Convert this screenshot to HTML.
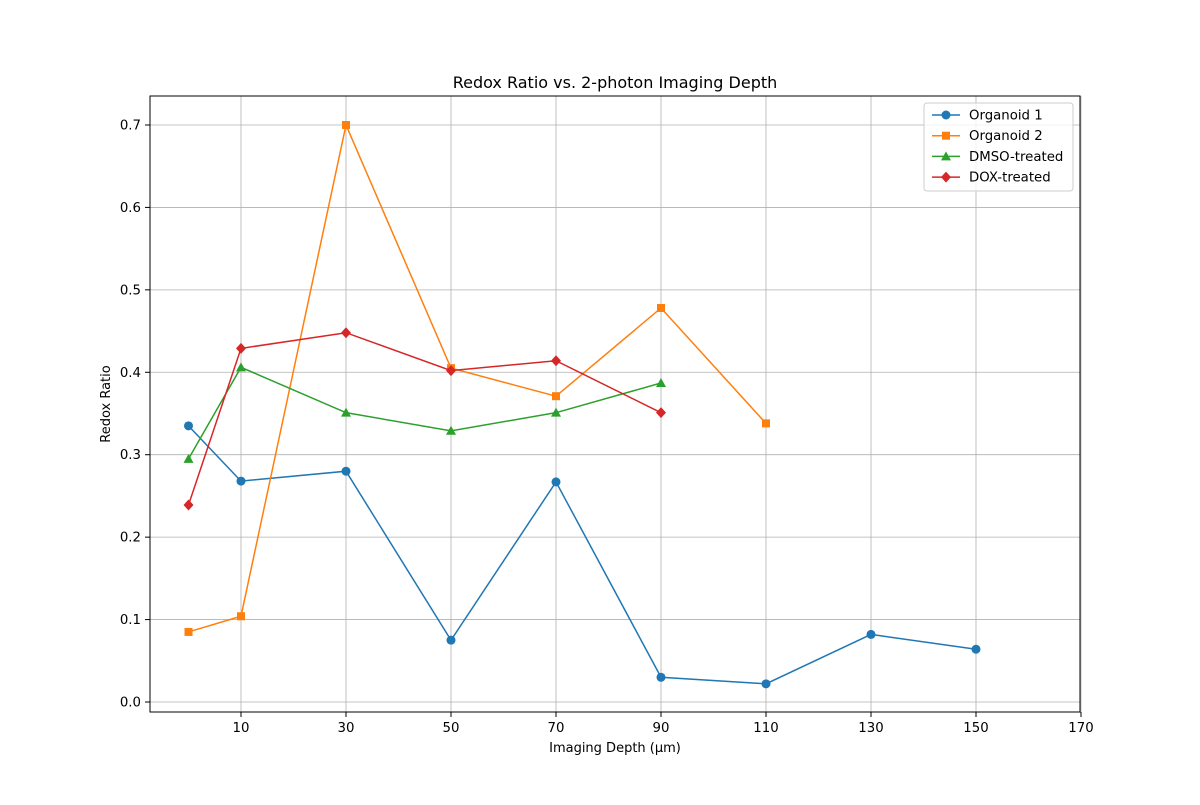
<!DOCTYPE html>
<html><head><meta charset="utf-8"><style>
body{margin:0;background:#fff}
svg text{font-family:"DejaVu Sans","Liberation Sans",sans-serif;fill:#000}
</style></head><body>
<svg id="chart" width="1200" height="800" xmlns="http://www.w3.org/2000/svg">
<rect width="1200" height="800" fill="#fff"/>
<g id="grid"></g>
<g id="series"></g>
<rect x="150" y="96" width="930" height="616" fill="none" stroke="#000" stroke-width="1"/>
<g id="ticks"></g>
<text x="615" y="88" font-size="16" text-anchor="middle">Redox Ratio vs. 2-photon Imaging Depth</text>
<text x="615" y="752" font-size="13" text-anchor="middle">Imaging Depth (μm)</text>
<text x="110" y="404" font-size="13" text-anchor="middle" transform="rotate(-90 110 404)">Redox Ratio</text>
<g id="legend"></g>
</svg>
<script>
const xTicks=[10,30,50,70,90,110,130,150,170];
const yTicks=[0.0,0.1,0.2,0.3,0.4,0.5,0.6,0.7];
const seriesNames=["Organoid 1","Organoid 2","DMSO-treated","DOX-treated"];
const org1X=[0,10,30,50,70,90,110,130,150];
const org1Y=[0.335,0.268,0.280,0.075,0.267,0.030,0.022,0.082,0.064];
const org2X=[0,10,30,50,70,90,110];
const org2Y=[0.085,0.104,0.700,0.405,0.371,0.478,0.338];
const dmsoX=[0,10,30,50,70,90];
const dmsoY=[0.295,0.406,0.351,0.329,0.351,0.387];
const doxX=[0,10,30,50,70,90];
const doxY=[0.239,0.429,0.448,0.402,0.414,0.351];

const NS="http://www.w3.org/2000/svg";
const sx=v=>188.5+v*5.25;
const sy=v=>702-v*824.3;
function mk(tag,attrs,parent){const e=document.createElementNS(NS,tag);for(const k in attrs)e.setAttribute(k,attrs[k]);parent.appendChild(e);return e;}
const grid=document.getElementById('grid'),ticks=document.getElementById('ticks');
xTicks.forEach(t=>{
  const g=mk('line',{x1:sx(t),x2:sx(t),y1:96,y2:712,stroke:'#b0b0b0','stroke-width':0.8},grid);
  
  
  mk('line',{x1:sx(t),x2:sx(t),y1:712,y2:717,stroke:'#000'},ticks);
  const l=mk('text',{x:sx(t),y:732,'font-size':13.3,'text-anchor':'middle'},ticks);
  l.textContent=t;
  
  
});
yTicks.forEach(t=>{
  const g=mk('line',{x1:150,x2:1080,y1:sy(t),y2:sy(t),stroke:'#b0b0b0','stroke-width':0.8},grid);
  
  
  mk('line',{x1:145,x2:150,y1:sy(t),y2:sy(t),stroke:'#000'},ticks);
  const l=mk('text',{x:141,y:sy(t)+4.5,'font-size':13.3,'text-anchor':'end'},ticks);
  l.textContent=t.toFixed(1);
  
  
});
function marker(kind,x,y,c,p){
  let e;
  if(kind==='o')e=mk('circle',{cx:x,cy:y,r:4.5,fill:c},p);
  else if(kind==='s')e=mk('rect',{x:x-4,y:y-4,width:8,height:8,fill:c},p);
  else if(kind==='^')e=mk('polygon',{points:`${x},${y-5} ${x-5},${y+4} ${x+5},${y+4}`,fill:c},p);
  else e=mk('polygon',{points:`${x},${y-5.5} ${x+5},${y} ${x},${y+5.5} ${x-5},${y}`,fill:c},p);
  
  
}
const defs=[[org1X,org1Y,'#1f77b4','o','organoid-1'],[org2X,org2Y,'#ff7f0e','s','organoid-2'],[dmsoX,dmsoY,'#2ca02c','^','dmso-treated'],[doxX,doxY,'#d62728','D','dox-treated']];
const sg=document.getElementById('series');
defs.forEach(([xs,ys,c,m,n])=>{
  const g=mk('g',{},sg);
  
  
  const pl=mk('polyline',{points:xs.map((x,i)=>sx(x)+','+sy(ys[i])).join(' '),fill:'none',stroke:c,'stroke-width':1.5},g);
  
  
  xs.forEach((x,i)=>marker(m,sx(x),sy(ys[i]),c,g));
});
const lg=document.getElementById('legend');


mk('rect',{x:924,y:103,width:149,height:88,rx:3,fill:'#fff','fill-opacity':0.8,stroke:'#ccc'},lg);
defs.forEach(([xs,ys,c,m,n],i)=>{
  const y=115+i*20.7;
  const g=mk('g',{},lg);
  
  
  mk('line',{x1:932,x2:960,y1:y,y2:y,stroke:c,'stroke-width':1.5},g);
  marker(m,946,y,c,g);
  const t=mk('text',{x:969,y:y+4.5,'font-size':13.3},g);
  t.textContent=seriesNames[i];
});
</script>
</body></html>
